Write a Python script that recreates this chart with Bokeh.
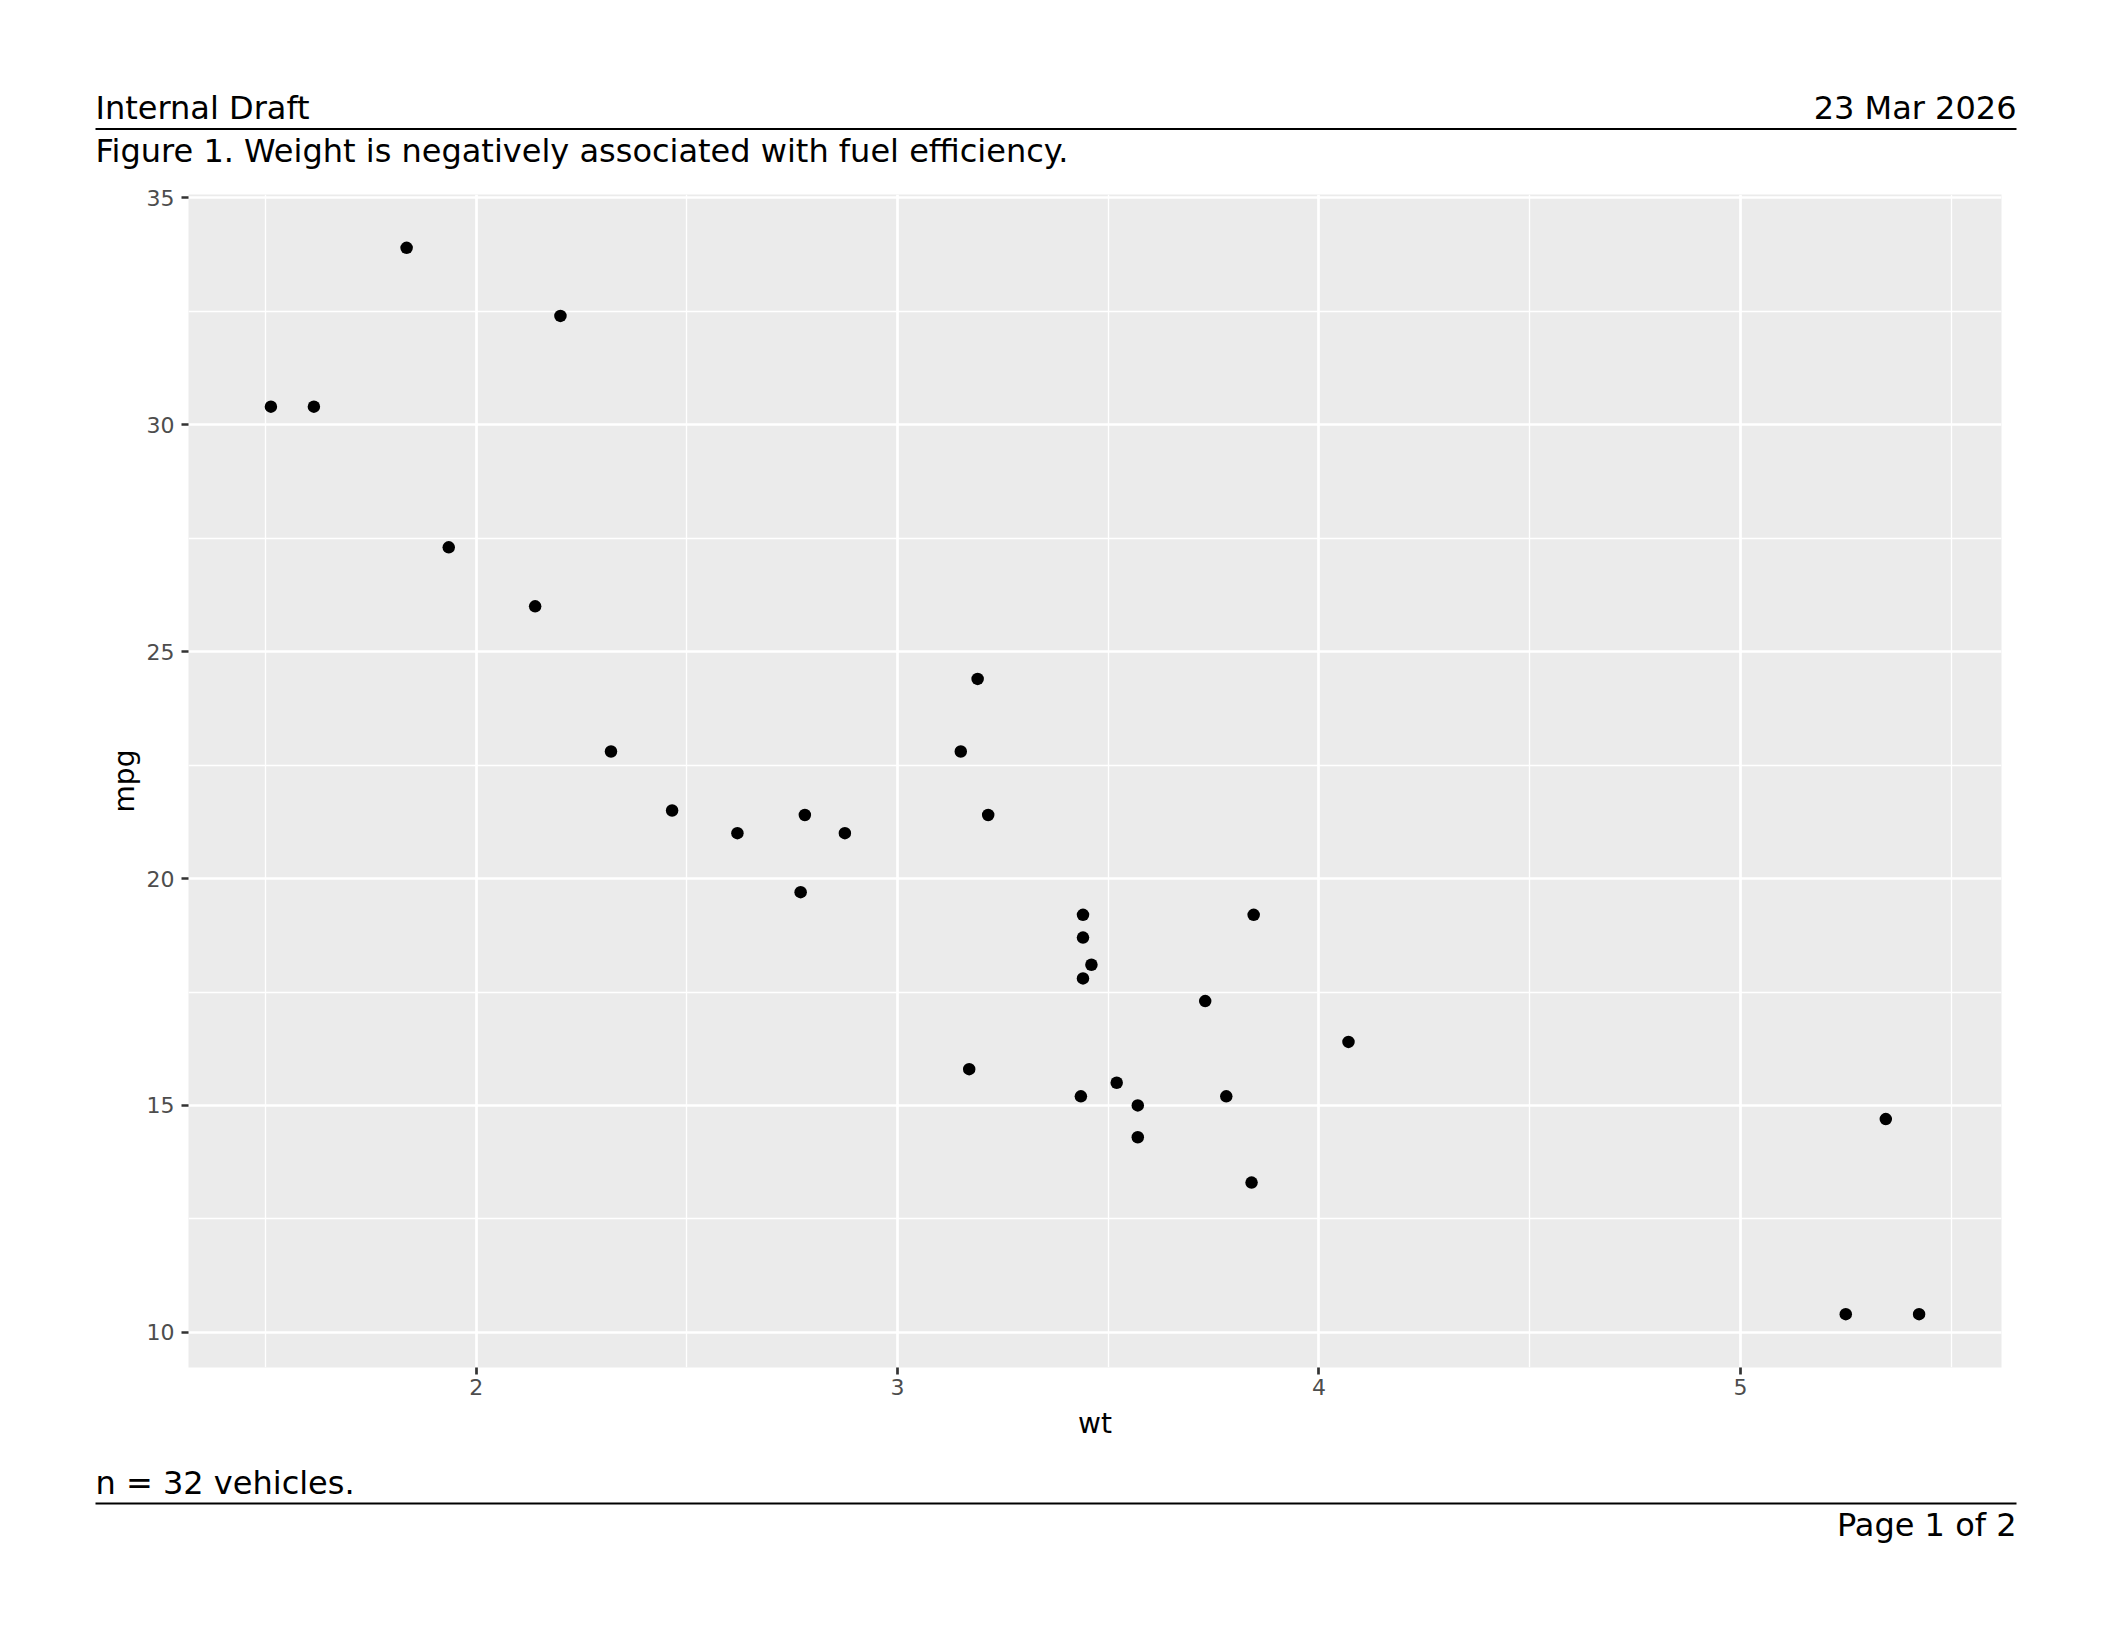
from bokeh.plotting import figure
from bokeh.models import Range1d, FixedTicker
from bokeh.core.properties import value
from bokeh.embed import file_html
from bokeh.resources import INLINE

# mtcars: weight (1000 lbs) and miles per gallon
wt = [2.620, 2.875, 2.320, 3.215, 3.440, 3.460, 3.570, 3.190, 3.150, 3.440,
      3.440, 4.070, 3.730, 3.780, 5.250, 5.424, 5.345, 2.200, 1.615, 1.835,
      2.465, 3.520, 3.435, 3.840, 3.845, 1.935, 2.140, 1.513, 3.170, 2.770,
      3.570, 2.780]
mpg = [21.0, 21.0, 22.8, 21.4, 18.7, 18.1, 14.3, 24.4, 22.8, 19.2,
       17.8, 16.4, 17.3, 15.2, 10.4, 10.4, 14.7, 32.4, 30.4, 33.9,
       21.5, 15.5, 15.2, 13.3, 19.2, 27.3, 26.0, 30.4, 15.8, 19.7,
       15.0, 21.4]
x_ticks = [2, 3, 4, 5]
x_minor = [1.5, 2.5, 3.5, 4.5, 5.5]
y_ticks = [10, 15, 20, 25, 30, 35]
y_minor = [12.5, 17.5, 22.5, 27.5, 32.5]

header_left = "Internal Draft"
header_right = "23 Mar 2026"
caption = "Figure 1. Weight is negatively associated with fuel efficiency."
footnote = "n = 32 vehicles."
page_label = "Page 1 of 2"

FONT = value("DejaVu Sans")
W = 2112
H_HDR = 178
H_MAIN = 1282
H_FTR = 160
LEFT, RIGHT = 95, 2016   # page x extents of header/footer furniture
TXT_SHIFT = 11.5         # renderer places the alphabetic baseline this much lower


def blank(top, h):
    # figure whose data coordinates equal page pixel coordinates
    f = figure(width=W, height=h, x_range=Range1d(0, W),
               y_range=Range1d(top + h, top), title=None,
               output_backend="svg", toolbar_location=None,
               x_axis_location=None, y_axis_location=None, min_border=0)
    f.outline_line_color = None
    f.grid.visible = False
    f.background_fill_color = "white"
    f.border_fill_color = "white"
    return f


def txt(f, s, x, y, align):
    f.text(x=[x], y=[y - TXT_SHIFT], text=[s], text_font=FONT,
           text_font_size="32px", text_baseline="alphabetic",
           text_align=align, text_color="black")


def rule(f, y):
    f.segment(x0=[LEFT], y0=[y], x1=[RIGHT], y1=[y], line_width=2,
              line_color="black")


# header
hdr = blank(0, H_HDR)
txt(hdr, header_left, LEFT, 119, "left")
txt(hdr, header_right, RIGHT, 119, "right")
rule(hdr, 128.5)
txt(hdr, caption, LEFT, 162, "left")

# main plot (frame spans page x 188..2001, y 194..1367)
xr = (min(wt), max(wt))
yr = (min(mpg), max(mpg))
xpad = (xr[1] - xr[0]) * 0.05
ypad = (yr[1] - yr[0]) * 0.05
p = figure(width=W, height=H_MAIN,
           x_range=Range1d(xr[0] - xpad, xr[1] + xpad),
           y_range=Range1d(yr[0] - ypad, yr[1] + ypad),
           title=None, output_backend="svg", toolbar_location=None,
           min_border_left=188, min_border_right=W - 2001,
           min_border_top=194 - H_HDR,
           min_border_bottom=H_HDR + H_MAIN - 1367)
p.outline_line_color = None
p.background_fill_color = "#EBEBEB"
p.border_fill_color = "white"

p.xaxis.ticker = FixedTicker(ticks=x_ticks, minor_ticks=x_minor)
p.yaxis.ticker = FixedTicker(ticks=y_ticks, minor_ticks=y_minor)
for ax in (p.xaxis, p.yaxis):
    ax.axis_line_color = None
    ax.major_tick_line_color = "#333333"
    ax.major_tick_line_width = 2.7
    ax.major_tick_out = 7
    ax.major_tick_in = 0
    ax.minor_tick_line_color = None
    ax.major_label_text_color = "#4D4D4D"
    ax.major_label_text_font = "DejaVu Sans"
    ax.major_label_text_font_size = "22px"
    ax.axis_label_text_font = "DejaVu Sans"
    ax.axis_label_text_font_size = "28px"
    ax.axis_label_text_font_style = "normal"
    ax.axis_label_text_color = "black"
p.xaxis.axis_label = "wt"
p.yaxis.axis_label = "mpg"
p.xaxis.major_label_standoff = 4
p.yaxis.major_label_standoff = 7
p.xaxis.axis_label_standoff = 9
p.yaxis.axis_label_standoff = 3

for g in (p.xgrid, p.ygrid):
    g.grid_line_color = "white"
    g.grid_line_width = 2.7
    g.minor_grid_line_color = "white"
    g.minor_grid_line_width = 1.3

p.scatter(x=wt, y=mpg, size=12.5, fill_color="black", line_color=None)

# footer
ftr = blank(H_HDR + H_MAIN, H_FTR)
txt(ftr, footnote, LEFT, 1494, "left")
rule(ftr, 1503)
txt(ftr, page_label, RIGHT, 1536, "right")

# separate roots so the figures keep their own borders
open("out.html", "w").write(file_html([hdr, p, ftr], INLINE))
